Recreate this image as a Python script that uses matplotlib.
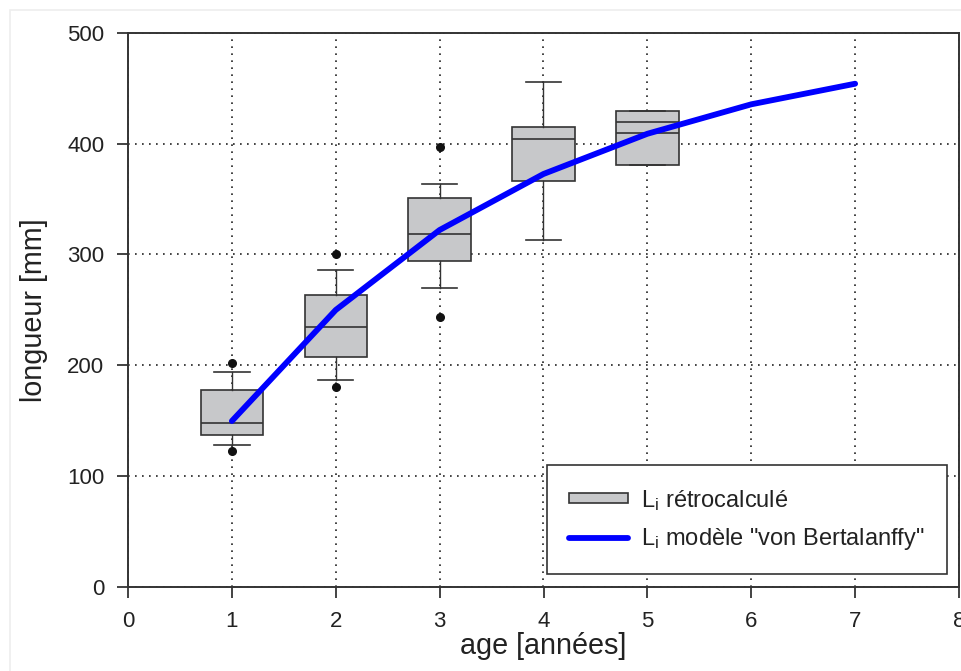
import matplotlib
matplotlib.use("Agg")
import matplotlib.pyplot as plt
from matplotlib.patches import Patch, Rectangle
from matplotlib.lines import Line2D

plt.rcParams['font.family'] = ['Liberation Sans', 'DejaVu Sans']
plt.rcParams['mathtext.default'] = 'regular'

# ---- data ----
ages = [1, 2, 3, 4, 5]
q1 = [136.7, 207.4, 293.8, 366.0, 380.5]
med = [148.1, 234.2, 318.8, 404.3, 410.0]
q3 = [177.3, 263.1, 350.7, 415.4, 429.8]
whislo = [127.7, 186.9, 269.7, 313.0, 380.5]
whishi = [194.2, 286.3, 363.6, 456.0, 429.8]
fliers = [[122.8, 202.0], [180.3, 300.4], [243.5, 397.3], [], []]
mean5 = 419.6  # second line drawn in box 5

model_age = [1, 2, 3, 4, 5, 6, 7]
model_len = [149.6, 249.9, 322.1, 372.7, 409.0, 435.6, 454.2]

xticks = [0, 1, 2, 3, 4, 5, 6, 7, 8]
yticks = [0, 100, 200, 300, 400, 500]

fig = plt.figure(figsize=(9.62, 6.71), dpi=100)
fig.patches.append(Rectangle((10 / 962, -0.1), 1.2, 1 - 10 / 671 + 0.1,
                             transform=fig.transFigure, facecolor='none',
                             edgecolor='#eeeeee', lw=1.2))
ax = fig.add_axes([128 / 962, 1 - 586.7 / 671, (959 - 128) / 962, (586.7 - 33) / 671])

box_face = '#c7c8ca'
edge = '#333333'

stats = []
for i in range(4):
    stats.append(dict(med=med[i], q1=q1[i], q3=q3[i], whislo=whislo[i],
                      whishi=whishi[i], fliers=fliers[i]))
common = dict(widths=0.6, patch_artist=True, manage_ticks=False,
              boxprops=dict(facecolor=box_face, edgecolor=edge, lw=1.2),
              medianprops=dict(color=edge, lw=1.2),
              whiskerprops=dict(color=edge, lw=1.0),
              capprops=dict(color=edge, lw=1.2),
              flierprops=dict(marker='o', markerfacecolor='#111111',
                              markeredgecolor='#111111', markersize=5.5),
              capwidths=0.34, zorder=3)
ax.bxp(stats, positions=ages[:4], **common)
stats5 = [dict(med=med[4], q1=q1[4], q3=q3[4], whislo=whislo[4],
               whishi=whishi[4], fliers=fliers[4], mean=mean5)]
ax.bxp(stats5, positions=[ages[4]], showmeans=True, meanline=True,
       meanprops=dict(color=edge, lw=1.2, linestyle='-'), **common)

ax.plot(model_age, model_len, color='#0000ff', lw=4.2,
        solid_capstyle='round', solid_joinstyle='round', zorder=4)

ax.set_xlim(0, 8)
ax.set_ylim(0, 500)
ax.set_xticks(xticks)
ax.set_yticks(yticks)
ax.set_xticklabels([str(t) for t in xticks])
ax.set_yticklabels([str(t) for t in yticks])
ax.set_axisbelow(True)
ax.grid(True, color='#222222', linestyle=(0, (1, 3.2)), lw=1.2)
ax.tick_params(direction='out', length=8, width=1.2, labelsize=16,
               colors='#222222')
ax.tick_params(axis='y', pad=9)
ax.tick_params(axis='x', pad=9.5)
for s in ax.spines.values():
    s.set_linewidth(1.4)
    s.set_color('#333333')

ax.set_xlabel('age [années]', fontsize=20.7, color='#222222', labelpad=0)
ax.set_ylabel('longueur [mm]', fontsize=20.7, color='#222222', labelpad=14)

handles = [Patch(facecolor=box_face, edgecolor=edge, lw=1.2),
           Line2D([], [], color='#0000ff', lw=4.2, solid_capstyle='round')]
labels = [r'L$_{i}$ rétrocalculé', r'L$_{i}$ modèle "von Bertalanffy"']
leg = ax.legend(handles, labels, loc='lower right',
                bbox_to_anchor=(0.9856, 0.023), fontsize=17,
                frameon=True, fancybox=False, edgecolor='#333333',
                framealpha=1, handlelength=2.5, handleheight=0.3,
                handletextpad=0.55, borderpad=0.95, labelspacing=0.55,
                borderaxespad=0)
leg.get_frame().set_linewidth(1.2)
for t in leg.get_texts():
    t.set_color('#222222')

fig.savefig('out.png', dpi=100)
